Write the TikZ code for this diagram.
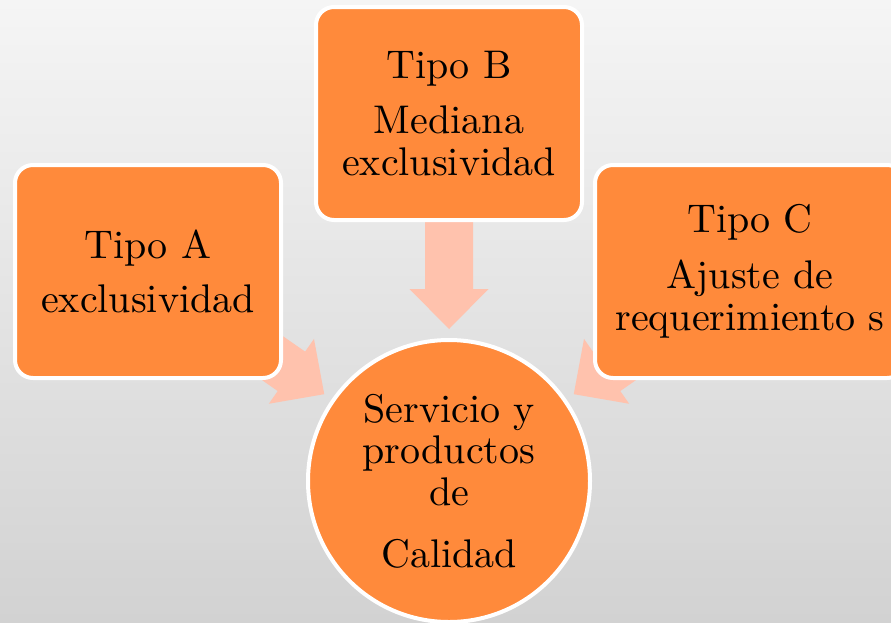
\documentclass[tikz,border=0pt]{standalone}
\usepackage{fontspec}
\setmainfont{lmroman10-regular}[Extension=.otf]
\usetikzlibrary{calc,backgrounds}
\definecolor{orangefill}{HTML}{FF8A3B}
\definecolor{arrowfill}{HTML}{FFC2AD}
\definecolor{bgtop}{HTML}{F5F5F5}
\definecolor{bgbottom}{HTML}{D2D2D2}
\tikzset{
  boxnode/.style={draw=white, line width=4pt, fill=orangefill, rounded corners=18pt,
    minimum width=266pt, minimum height=213pt, align=center, inner sep=0pt,
    font=\fontsize{40}{42}\selectfont},
  circnode/.style={circle, draw=white, line width=4pt, fill=orangefill,
    minimum size=282pt, align=center, inner sep=0pt,
    font=\fontsize{40}{41.5}\selectfont},
  blockfill/.style={fill=arrowfill}
}
\newcommand\blockarrow[2]{%
  \coordinate (ba-h) at ($(#2)!40pt!(#1)$);
  \fill[blockfill] ($(#1)!24pt!90:(#2)$) -- ($(ba-h)!24pt!90:(#2)$) -- ($(ba-h)!39.5pt!90:(#2)$) -- (#2)
    -- ($(ba-h)!39.5pt!-90:(#2)$) -- ($(ba-h)!24pt!-90:(#2)$) -- ($(#1)!24pt!-90:(#2)$) -- cycle;
}
\begin{document}
\begin{tikzpicture}[x=1pt, y=-1pt]
  \useasboundingbox (0,0) rectangle (891,622);
  \begin{scope}[on background layer]
    \shade[top color=bgtop, bottom color=bgbottom] (0,0) rectangle (891,622);
  \end{scope}
  \node[boxnode] (A) at (148,271.5) {Tipo A\\[12pt]exclusividad};
  \node[boxnode] (B) at (449,113.5) {Tipo B\\[13pt]Mediana\\exclusividad};
  \node[boxnode, minimum width=310pt] (C) at (750,271.5) {Tipo C\\[14pt]Ajuste de\\requerimiento s};
  \node[circnode] (S) at (449,481) {Servicio y\\productos\\de\\[20.5pt]Calidad};
  \coordinate (tA) at ($(S.center)!152pt!(A.center)$);
  \coordinate (tB) at ($(S.center)!152pt!(B.center)$);
  \coordinate (tC) at ($(S.center)!152pt!(C.center)$);
  \begin{scope}[on background layer]
    \blockarrow{A.center}{tA}
    \blockarrow{B.center}{tB}
    \blockarrow{C.center}{tC}
  \end{scope}
\end{tikzpicture}
\end{document}
